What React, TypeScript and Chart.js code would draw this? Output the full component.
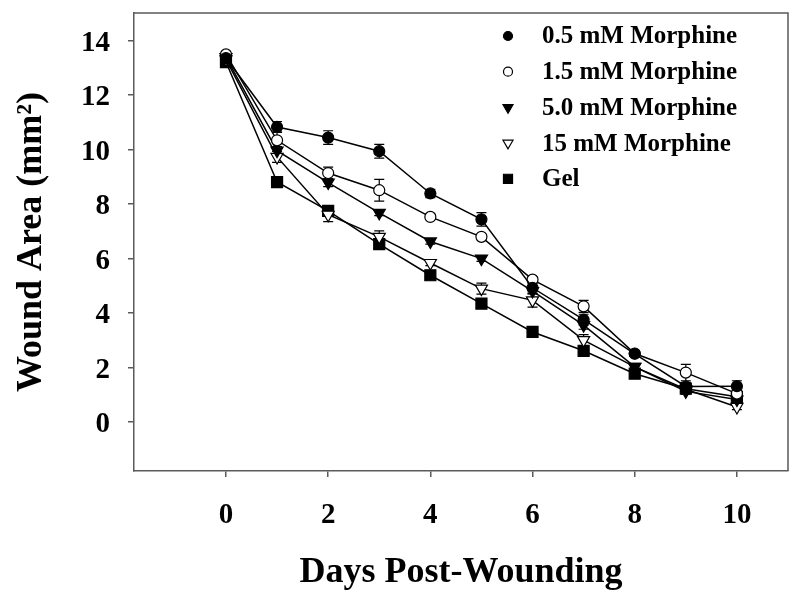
import React, { useEffect, useRef } from 'react';
import { Chart, registerables } from 'chart.js';

Chart.register(...registerables);

const days = [0, 1, 2, 3, 4, 5, 6, 7, 8, 9, 10];
const xTicks = [0, 2, 4, 6, 8, 10];
const yTicks = [0, 2, 4, 6, 8, 10, 12, 14];

const seriesNames = ['0.5 mM Morphine', '1.5 mM Morphine', '5.0 mM Morphine', '15 mM Morphine', 'Gel'];

const morphine05 = [13.35, 10.82, 10.43, 9.93, 8.38, 7.43, 4.92, 3.75, 2.5, 1.3, 1.31];
const morphine15 = [13.48, 10.33, 9.13, 8.5, 7.52, 6.79, 5.22, 4.24, 2.51, 1.81, 1.04];
const morphine50 = [13.38, 9.95, 8.78, 7.67, 6.62, 5.99, 4.8, 3.55, 2.02, 1.12, 0.82];
const morphine150 = [13.3, 9.72, 7.6, 6.79, 5.83, 4.89, 4.46, 3.0, 2.02, 1.2, 0.55];
const gel = [13.2, 8.8, 7.74, 6.52, 5.38, 4.34, 3.3, 2.61, 1.77, 1.22, 0.92];

const err05 = [0.1, 0.2, 0.25, 0.25, 0.15, 0.25, 0.15, 0.2, 0.1, 0.15, 0.2];
const err15 = [0.1, 0.3, 0.22, 0.4, 0.1, 0.1, 0.1, 0.22, 0.1, 0.3, 0.1];
const err50 = [0.1, 0.15, 0.15, 0.1, 0.1, 0.1, 0.1, 0.15, 0.1, 0.1, 0.1];
const err150 = [0.1, 0.2, 0.25, 0.22, 0.1, 0.2, 0.25, 0.2, 0.1, 0.1, 0.1];
const errGel = [0.1, 0.1, 0.1, 0.1, 0.1, 0.1, 0.1, 0.1, 0.1, 0.1, 0.1];

const SERIF = '"Liberation Serif", "Times New Roman", serif';
const AXIS_COLOR = '#5a5a5a';

type Marker = { style: string; rot: number; fill: string; r: number; lr: number };
const markers: Marker[] = [
  { style: 'circle', rot: 0, fill: '#000', r: 5.5, lr: 4.5 },
  { style: 'circle', rot: 0, fill: '#fff', r: 5.5, lr: 4.5 },
  { style: 'triangle', rot: 180, fill: '#000', r: 7, lr: 5.8 },
  { style: 'triangle', rot: 180, fill: '#fff', r: 7, lr: 5.8 },
  { style: 'rect', rot: 0, fill: '#000', r: 7.8, lr: 6.4 },
];

const allValues = [morphine05, morphine15, morphine50, morphine150, gel];
const allErrors = [err05, err15, err50, err150, errGel];

function drawMarker(ctx: CanvasRenderingContext2D, m: Marker, x: number, y: number, r: number) {
  ctx.save();
  ctx.beginPath();
  if (m.style === 'circle') {
    ctx.arc(x, y, r, 0, Math.PI * 2);
  } else if (m.style === 'triangle') {
    let rad = (m.rot * Math.PI) / 180;
    ctx.moveTo(x + Math.sin(rad) * r, y - Math.cos(rad) * r);
    rad += (2 * Math.PI) / 3;
    ctx.lineTo(x + Math.sin(rad) * r, y - Math.cos(rad) * r);
    rad += (2 * Math.PI) / 3;
    ctx.lineTo(x + Math.sin(rad) * r, y - Math.cos(rad) * r);
    ctx.closePath();
  } else {
    const s = Math.SQRT1_2 * r;
    ctx.rect(x - s, y - s, 2 * s, 2 * s);
  }
  ctx.fillStyle = m.fill;
  ctx.fill();
  ctx.lineWidth = 1.2;
  ctx.strokeStyle = '#000';
  ctx.stroke();
  ctx.restore();
}

const extrasPlugin = {
  id: 'extras',
  beforeDatasetsDraw(chart: any) {
    const ctx: CanvasRenderingContext2D = chart.ctx;
    const xs = chart.scales.x;
    const ys = chart.scales.y;
    ctx.save();
    ctx.strokeStyle = '#000';
    ctx.lineWidth = 1.2;
    allValues.forEach((vals, si) => {
      const errs = allErrors[si];
      vals.forEach((v, i) => {
        const px = xs.getPixelForValue(days[i]);
        const pTop = ys.getPixelForValue(v + errs[i]);
        const pBot = ys.getPixelForValue(v - errs[i]);
        ctx.beginPath();
        ctx.moveTo(px, pTop);
        ctx.lineTo(px, pBot);
        ctx.moveTo(px - 5, pTop);
        ctx.lineTo(px + 5, pTop);
        ctx.moveTo(px - 5, pBot);
        ctx.lineTo(px + 5, pBot);
        ctx.stroke();
      });
    });
    ctx.restore();
  },
  afterDraw(chart: any) {
    const ctx: CanvasRenderingContext2D = chart.ctx;
    const a = chart.chartArea;
    ctx.save();
    // top and right frame
    ctx.strokeStyle = AXIS_COLOR;
    ctx.lineWidth = 1.5;
    ctx.beginPath();
    ctx.moveTo(a.left, a.top);
    ctx.lineTo(a.right, a.top);
    ctx.lineTo(a.right, a.bottom);
    ctx.stroke();
    // legend
    const mx = a.right - 280;
    const tx = a.right - 246;
    ctx.font = `bold 25px ${SERIF}`;
    ctx.textBaseline = 'middle';
    ctx.textAlign = 'left';
    seriesNames.forEach((name, i) => {
      const y = a.top + 23 + i * 35.7;
      drawMarker(ctx, markers[i], mx, y, markers[i].lr);
      ctx.fillStyle = '#000';
      ctx.fillText(name, tx, y + 1);
    });
    ctx.restore();
  },
};

function zeroPadding(s: any) {
  s.paddingTop = 0;
  s.paddingBottom = 0;
  s.paddingLeft = 0;
  s.paddingRight = 0;
}

export default function App() {
  const ref = useRef<HTMLCanvasElement | null>(null);
  useEffect(() => {
    if (!ref.current) return;
    const datasets = allValues.map((vals, i) => ({
      label: seriesNames[i],
      data: days.map((d, j) => ({ x: d, y: vals[j] })),
      borderColor: '#000',
      borderWidth: 1.5,
      backgroundColor: markers[i].fill,
      pointBackgroundColor: markers[i].fill,
      pointBorderColor: '#000',
      pointBorderWidth: 1.2,
      pointStyle: markers[i].style,
      pointRotation: markers[i].rot,
      pointRadius: markers[i].r,
      pointHoverRadius: markers[i].r,
      tension: 0,
      fill: false,
    }));
    const chart = new Chart(ref.current, {
      type: 'line',
      data: { datasets },
      options: {
        animation: false,
        responsive: false,
        devicePixelRatio: 1,
        layout: { padding: { left: 0, top: 13, right: 12, bottom: 0 } },
        plugins: {
          legend: { display: false },
          tooltip: { enabled: false },
        },
        scales: {
          x: {
            type: 'linear',
            min: -1.8,
            max: 11,
            afterBuildTicks: (s: any) => {
              s.ticks = xTicks.map((v) => ({ value: v }));
            },
            afterFit: (s: any) => {
              s.height = 128;
              zeroPadding(s);
            },
            grid: { drawOnChartArea: false, drawTicks: true, tickLength: 6, color: AXIS_COLOR, lineWidth: 1.5 },
            border: { display: true, color: AXIS_COLOR, width: 1.5 },
            ticks: {
              color: '#000',
              padding: 21,
              maxRotation: 0,
              font: { family: SERIF, size: 29, weight: 'bold' },
            },
            title: {
              display: true,
              text: 'Days Post-Wounding',
              color: '#000',
              font: { family: SERIF, size: 36, weight: 'bold' },
              padding: { top: 0, bottom: 5 },
            },
          },
          y: {
            type: 'linear',
            min: -1.8,
            max: 15,
            afterBuildTicks: (s: any) => {
              s.ticks = yTicks.map((v) => ({ value: v }));
            },
            afterFit: (s: any) => {
              s.width = 134;
              zeroPadding(s);
            },
            grid: { drawOnChartArea: false, drawTicks: true, tickLength: 6, color: AXIS_COLOR, lineWidth: 1.5 },
            border: { display: true, color: AXIS_COLOR, width: 1.5 },
            ticks: {
              color: '#000',
              padding: 18,
              labelOffset: 3,
              font: { family: SERIF, size: 29, weight: 'bold' },
            },
            title: {
              display: true,
              text: 'Wound Area (mm²)',
              color: '#000',
              font: { family: SERIF, size: 36, weight: 'bold' },
              padding: { top: 10, bottom: 0 },
            },
          },
        },
      } as any,
      plugins: [extrasPlugin],
    });
    return () => chart.destroy();
  }, []);
  return (
    <div style={{ position: 'fixed', left: 0, top: 0, width: 800, height: 599, background: '#fff' }}>
      <canvas ref={ref} width={800} height={599} style={{ display: 'block', width: 800, height: 599 }} />
    </div>
  );
}
